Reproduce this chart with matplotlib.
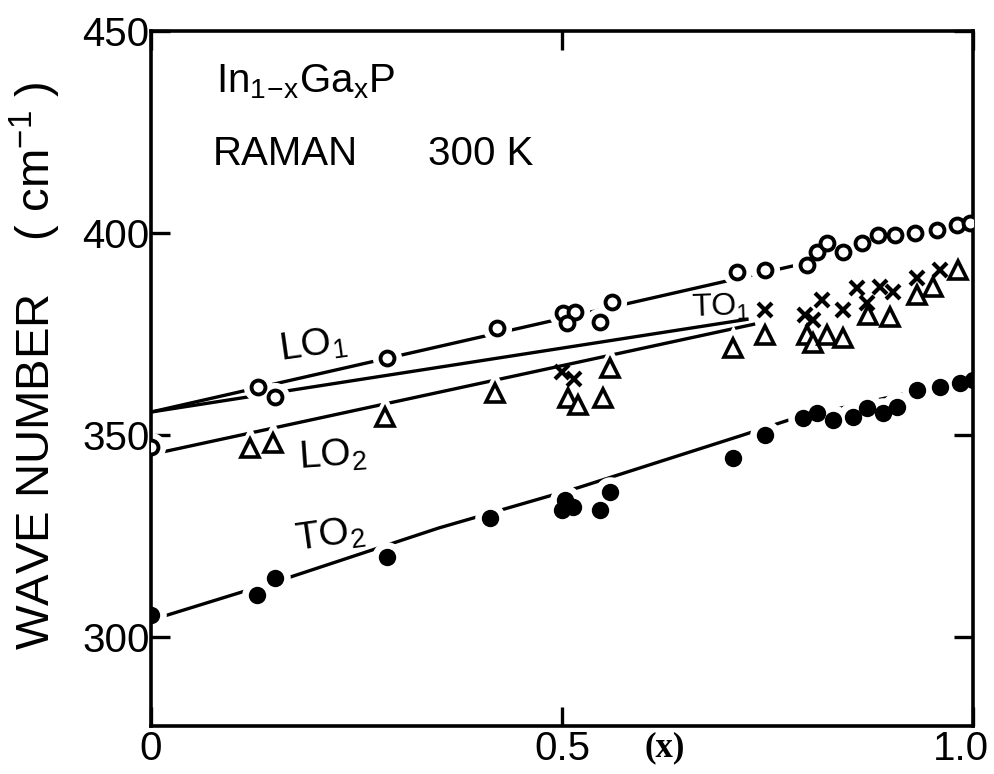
import matplotlib
matplotlib.use("Agg")
import matplotlib.pyplot as plt
import matplotlib.transforms as mtransforms

plt.rcParams['font.family'] = ['Liberation Sans', 'DejaVu Sans']
plt.rcParams['mathtext.default'] = 'regular'

# ---- data (x = Ga fraction, y = wave number cm^-1)
lo1_x = [0.0, 0.130, 0.151, 0.287, 0.421, 0.501, 0.516, 0.506, 0.546, 0.561,
         0.713, 0.747, 0.798, 0.810, 0.822, 0.842, 0.865, 0.884, 0.905, 0.929,
         0.956, 0.981, 0.996]
lo1_y = [347.0, 361.9, 359.4, 369.1, 376.5, 380.2, 380.4, 377.7, 378.0, 382.9,
         390.3, 390.8, 392.1, 395.3, 397.5, 395.3, 397.5, 399.5, 399.5, 400.0,
         400.7, 402.0, 402.5]

lo2_x = [0.120, 0.148, 0.285, 0.418, 0.507, 0.519, 0.550, 0.558,
         0.708, 0.747, 0.798, 0.805, 0.822, 0.842, 0.872, 0.899, 0.932, 0.951, 0.982]
lo2_y = [346.8, 348.0, 354.5, 360.4, 359.2, 357.4, 359.2, 366.6,
         371.5, 374.8, 374.8, 372.8, 374.8, 374.0, 379.7, 379.2, 384.7, 386.6, 390.8]

to1_x = [0.500, 0.515, 0.747, 0.796, 0.805, 0.816, 0.842, 0.859, 0.871, 0.887,
         0.903, 0.932, 0.960]
to1_y = [365.5, 364.0, 380.9, 379.7, 378.5, 383.4, 380.9, 386.4, 382.7, 386.6,
         385.4, 388.9, 390.8]

to2_x = [0.0, 0.129, 0.151, 0.287, 0.412, 0.504, 0.513, 0.500, 0.546, 0.558,
         0.708, 0.747, 0.793, 0.810, 0.830, 0.854, 0.871, 0.891, 0.908, 0.932,
         0.960, 0.984, 1.0]
to2_y = [305.4, 310.4, 314.6, 319.8, 329.5, 333.9, 332.2, 331.4, 331.4, 335.9,
         344.3, 350.0, 354.2, 355.4, 353.7, 354.5, 356.7, 355.4, 356.9, 361.1,
         361.9, 362.9, 363.6]

# hand-drawn guide lines
lo1_fit_x = [0.0, 1.0]
lo1_fit_y = [355.7, 402.0]
to1_fit_x = [0.0, 0.727]
to1_fit_y = [355.7, 378.7]
lo2_fit_x = [0.0, 0.735]
lo2_fit_y = [345.2, 377.5]
to2_fit_x = [0.0, 0.17, 0.35, 0.52, 0.72, 0.78, 1.0]
to2_fit_y = [304.2, 314.9, 327.0, 337.0, 350.0, 354.0, 364.0]

xticks = [0, 0.5, 1.0]
xticklabels = ['0', '0.5', '1.0']
yticks = [300, 350, 400, 450]

fig = plt.figure(figsize=(9.94, 7.74), dpi=100)
ax = fig.add_axes([151 / 994, 1 - 726 / 774, 822 / 994, 695 / 774])

lw = 2.4
for fx, fy in [(lo1_fit_x, lo1_fit_y), (to1_fit_x, to1_fit_y),
               (lo2_fit_x, lo2_fit_y), (to2_fit_x, to2_fit_y)]:
    ax.plot(fx, fy, color='black', lw=lw, zorder=1, solid_capstyle='butt')

# white halos break the lines around the symbols
halo = dict(ls='none', color='white', mfc='white', mec='white', zorder=2)
ax.plot(lo1_x, lo1_y, marker='o', ms=10, mew=11, **halo)
ax.plot(to2_x, to2_y, marker='o', ms=11, mew=11, **halo)
ax.plot(lo2_x, lo2_y, marker='^', ms=13, mew=9, **halo)

ax.plot(lo1_x, lo1_y, ls='none', marker='o', ms=10, mfc='white', mec='black', mew=2.8, zorder=3)
ax.plot(to2_x, to2_y, ls='none', marker='o', ms=11, mfc='black', mec='black', mew=1.5, zorder=3)
ax.plot(lo2_x, lo2_y, ls='none', marker='^', ms=13, mfc='white', mec='black', mew=2.6, zorder=3)
ax.plot(to1_x, to1_y, ls='none', marker='x', ms=10, mec='black', mew=3.0, zorder=4)

ax.set_xlim(0, 1.0)
ax.set_ylim(278, 450)
ax.set_xticks(xticks)
ax.set_xticklabels(xticklabels)
ax.set_yticks(yticks)
ax.tick_params(direction='in', length=14, width=2.4, top=True, right=True,
               labelsize=29, pad=3)
ax.tick_params(axis='y', pad=1)
for s in ax.spines.values():
    s.set_linewidth(2.6)

# nudge the last x label inside the picture
last = ax.get_xticklabels()[-1]
last.set_transform(last.get_transform() + mtransforms.ScaledTranslation(-12 / 100, 0, fig.dpi_scale_trans))

fig.text(35 / 994, 1 - 366 / 774, 'WAVE NUMBER    ( cm$^{-1}$ )', fontsize=34,
         rotation=90, ha='center', va='center')

ax.text(0.625, -0.032, '(x)', transform=ax.transAxes, ha='center', va='center',
        fontsize=25, fontweight='bold', family=['Liberation Serif', 'DejaVu Serif'])

ax.text(0.079, 434.9, r'In$_{1\!-\!x}$Ga$_x$P', fontsize=29, va='baseline', ha='left')
ax.text(0.0754, 416.8, 'RAMAN', fontsize=29, va='baseline', ha='left')
ax.text(0.337, 416.8, '300 K', fontsize=29, va='baseline', ha='left')

ax.text(0.197, 372.0, 'LO$_1$', fontsize=28, rotation=8, ha='center', va='center')
ax.text(0.221, 344.8, 'LO$_2$', fontsize=28, rotation=4, ha='center', va='center')
ax.text(0.218, 325.0, 'TO$_2$', fontsize=28, rotation=8, ha='center', va='center')
ax.text(0.693, 381.6, 'TO$_1$', fontsize=23, rotation=2, ha='center', va='center')

fig.savefig('out.png', dpi=100)
